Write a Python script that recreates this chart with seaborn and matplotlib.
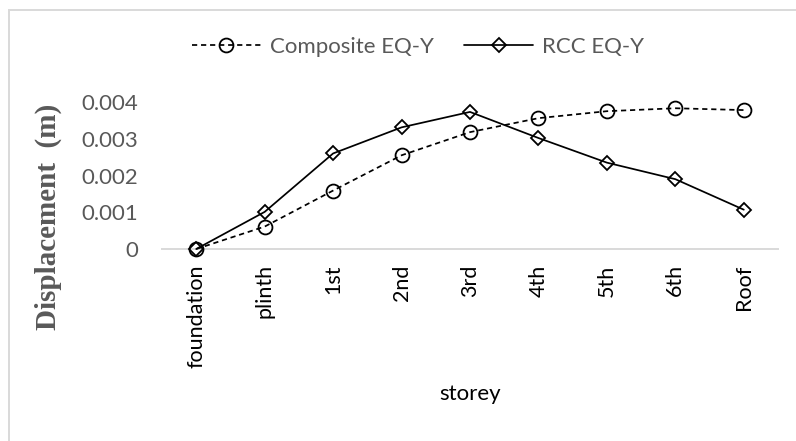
import matplotlib
matplotlib.use("Agg")
import matplotlib.pyplot as plt
import seaborn as sns
import pandas as pd
from matplotlib.patches import Rectangle

# Storey-wise lateral displacement under EQ-Y loading
storeys = ["foundation", "plinth", "1st", "2nd", "3rd", "4th", "5th", "6th", "Roof"]
composite_eq_y = [0.0, 0.00061, 0.00159, 0.00255, 0.00318, 0.00356, 0.00375, 0.00383, 0.00378]
rcc_eq_y = [0.0, 0.00101, 0.00260, 0.00331, 0.00373, 0.00302, 0.00235, 0.00190, 0.00107]
y_ticks = [0, 0.001, 0.002, 0.003, 0.004]
y_tick_labels = ["0", "0.001", "0.002", "0.003", "0.004"]

sns.set_theme(style="white")
plt.rcParams["font.family"] = ["Lato", "DejaVu Sans"]

W, H = 796, 441
fig = plt.figure(figsize=(W / 100, H / 100), dpi=100)
ax = fig.add_axes([162 / W, 1 - 249 / H, (778 - 162) / W, (249 - 102) / H])

df_comp = pd.DataFrame({"storey": storeys, "disp": composite_eq_y})
df_rcc = pd.DataFrame({"storey": storeys, "disp": rcc_eq_y})

sns.lineplot(data=df_comp, x="storey", y="disp", sort=False, ax=ax,
             color="black", lw=1.25, dashes=False, linestyle=(0, (3.0, 2.2)),
             marker="o", markersize=10, markerfacecolor="none",
             markeredgecolor="black", markeredgewidth=1.3, clip_on=False,
             label="Composite EQ-Y")
sns.lineplot(data=df_rcc, x="storey", y="disp", sort=False, ax=ax,
             color="black", lw=1.25, marker="D", markersize=7,
             markerfacecolor="none", markeredgecolor="black",
             markeredgewidth=1.3, clip_on=False, label="RCC EQ-Y")

ax.set_xlim(-0.5, len(storeys) - 0.5)
ax.set_ylim(0, 0.004)
ax.set_yticks(y_ticks)
ax.set_yticklabels(y_tick_labels)
ax.set_xticks(range(len(storeys)))
ax.set_xticklabels(storeys, rotation=90)

for side in ["top", "right", "left"]:
    ax.spines[side].set_visible(False)
ax.spines["bottom"].set_color("#d9d9d9")
ax.spines["bottom"].set_linewidth(1.4)
ax.spines["bottom"].set_zorder(0)
ax.tick_params(axis="y", length=0, pad=17, labelsize=16, labelcolor="#595959")
ax.tick_params(axis="x", length=0, pad=11, labelsize=15.5, labelcolor="black")
ax.grid(False)
ax.patch.set_alpha(0)

ax.set_xlabel("storey", fontsize=16, color="black")
ax.xaxis.set_label_coords(0.5, -0.92)
ax.set_ylabel("Displacement  (m)", fontsize=21, color="#595959",
              fontfamily="Liberation Serif", fontweight="bold", va="center")
ax.yaxis.set_label_coords((48 - 162) / 616, (249 - 217) / 147)

handles, labels = ax.get_legend_handles_labels()
ax.get_legend().remove()
fig.legend(handles, labels, loc="center", bbox_to_anchor=(418 / W, 1 - 47 / H),
           ncol=2, frameon=False, fontsize=16, labelcolor="#595959",
           handlelength=3.1, handletextpad=0.4, columnspacing=1.4)

# chart area frame
fig.patches.append(Rectangle((9 / W, -0.1), 1.2, 1 - 10 / H + 0.1,
                             transform=fig.transFigure, fill=False,
                             edgecolor="#d9d9d9", linewidth=1.4, zorder=0))

fig.savefig("out.png", dpi=100)
